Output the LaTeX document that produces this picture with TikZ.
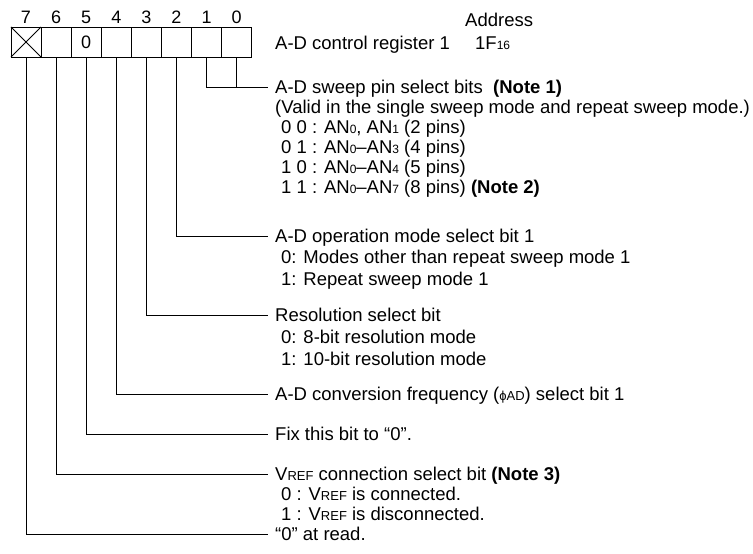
\documentclass[tikz,border=0pt]{standalone}
\usepackage{fontspec}
\setmainfont{Liberation Sans}
\usetikzlibrary{positioning}
\newcommand{\lowsub}[1]{\raisebox{-0.05ex}{\fontsize{12}{12}\selectfont #1}}
\newcommand{\smallcap}[1]{{\fontsize{13}{13}\selectfont #1}}
\tikzset{
  cell/.style={draw,line width=0.8pt,minimum width=30.1pt,minimum height=30pt,
    inner sep=0pt,outer sep=0pt,font=\fontsize{18}{20}\selectfont},
  bitno/.style={inner sep=0pt,font=\fontsize{18}{20}\selectfont},
  field/.style={anchor=west,inner sep=0pt,text height=13pt,text depth=0pt,
    font=\fontsize{18.5}{20}\selectfont},
  subline/.style={field},
  lead/.style={line width=0.8pt,shorten >=7pt}
}
\begin{document}
\begin{tikzpicture}[x=1pt,y=-1pt]
  \useasboundingbox (0,0) rectangle (753,554);
  % register cells, bit 7 on the left
  \foreach \b in {7,...,0}{
    \node[cell] (c\b) at ({26+30.1*(7-\b)},42) {};
    \node[bitno,above=3.5pt of c\b.north] (n\b) {\b};
  }
  \draw[line width=0.8pt] (c7.north west) -- (c7.south east) (c7.north east) -- (c7.south west);
  \node[bitno] (z5) at (c5.center) {0};

  \node[field] (addr) at (465,20) {Address};
  \node[field] (title) at (275,43) {A-D control register 1};
  \node[field] (addrval) at (475,43) {1F\lowsub{16}};

  % bits 1,0
  \node[field] (sweep) at (275,87) {A-D sweep pin select bits \ \textbf{(Note 1)}};
  \node[field] (valid) at (275,107) {(Valid in the single sweep mode and repeat sweep mode.)};
  \foreach \t [count=\i] in {{0 0 : AN\lowsub{0}, AN\lowsub{1} (2 pins)},
      {0 1 : AN\lowsub{0}--AN\lowsub{3} (4 pins)},
      {1 0 : AN\lowsub{0}--AN\lowsub{4} (5 pins)},
      {1 1 : AN\lowsub{0}--AN\lowsub{7} (8 pins) \textbf{(Note 2)}}}
    \node[subline] (sweep-\i) at (281,{107+20*\i}) {\t};

  % bit 2
  \node[field] (opmode) at (275,236) {A-D operation mode select bit 1};
  \node[subline] (opmode-1) at (281,257) {0: Modes other than repeat sweep mode 1};
  \node[subline] (opmode-2) at (281,279) {1: Repeat sweep mode 1};

  % bit 3
  \node[field] (resol) at (275,315) {Resolution select bit};
  \node[subline] (resol-1) at (281,337) {0: 8-bit resolution mode};
  \node[subline] (resol-2) at (281,359) {1: 10-bit resolution mode};

  % bit 4
  \node[field] (freq) at (275,394) {A-D conversion frequency (\smallcap{ϕAD}) select bit 1};

  % bit 5
  \node[field] (fix) at (275,434) {Fix this bit to “0”.};

  % bit 6
  \node[field] (vref) at (275,474) {V\smallcap{REF} connection select bit \textbf{(Note 3)}};
  \node[subline] (vref-1) at (281,494) {0 : V\smallcap{REF} is connected.};
  \node[subline] (vref-2) at (281,514) {1 : V\smallcap{REF} is disconnected.};

  % bit 7
  \node[field] (read) at (275,534) {“0” at read.};

  % leads
  \draw[lead] (c1.south) |- (sweep.west);
  \draw[line width=0.8pt] (c0.south) -- (c0.south |- sweep.west);
  \draw[lead] (c2.south) |- (opmode.west);
  \draw[lead] (c3.south) |- (resol.west);
  \draw[lead] (c4.south) |- (freq.west);
  \draw[lead] (c5.south) |- (fix.west);
  \draw[lead] (c6.south) |- (vref.west);
  \draw[lead] (c7.south) |- (read.west);
\end{tikzpicture}
\end{document}
